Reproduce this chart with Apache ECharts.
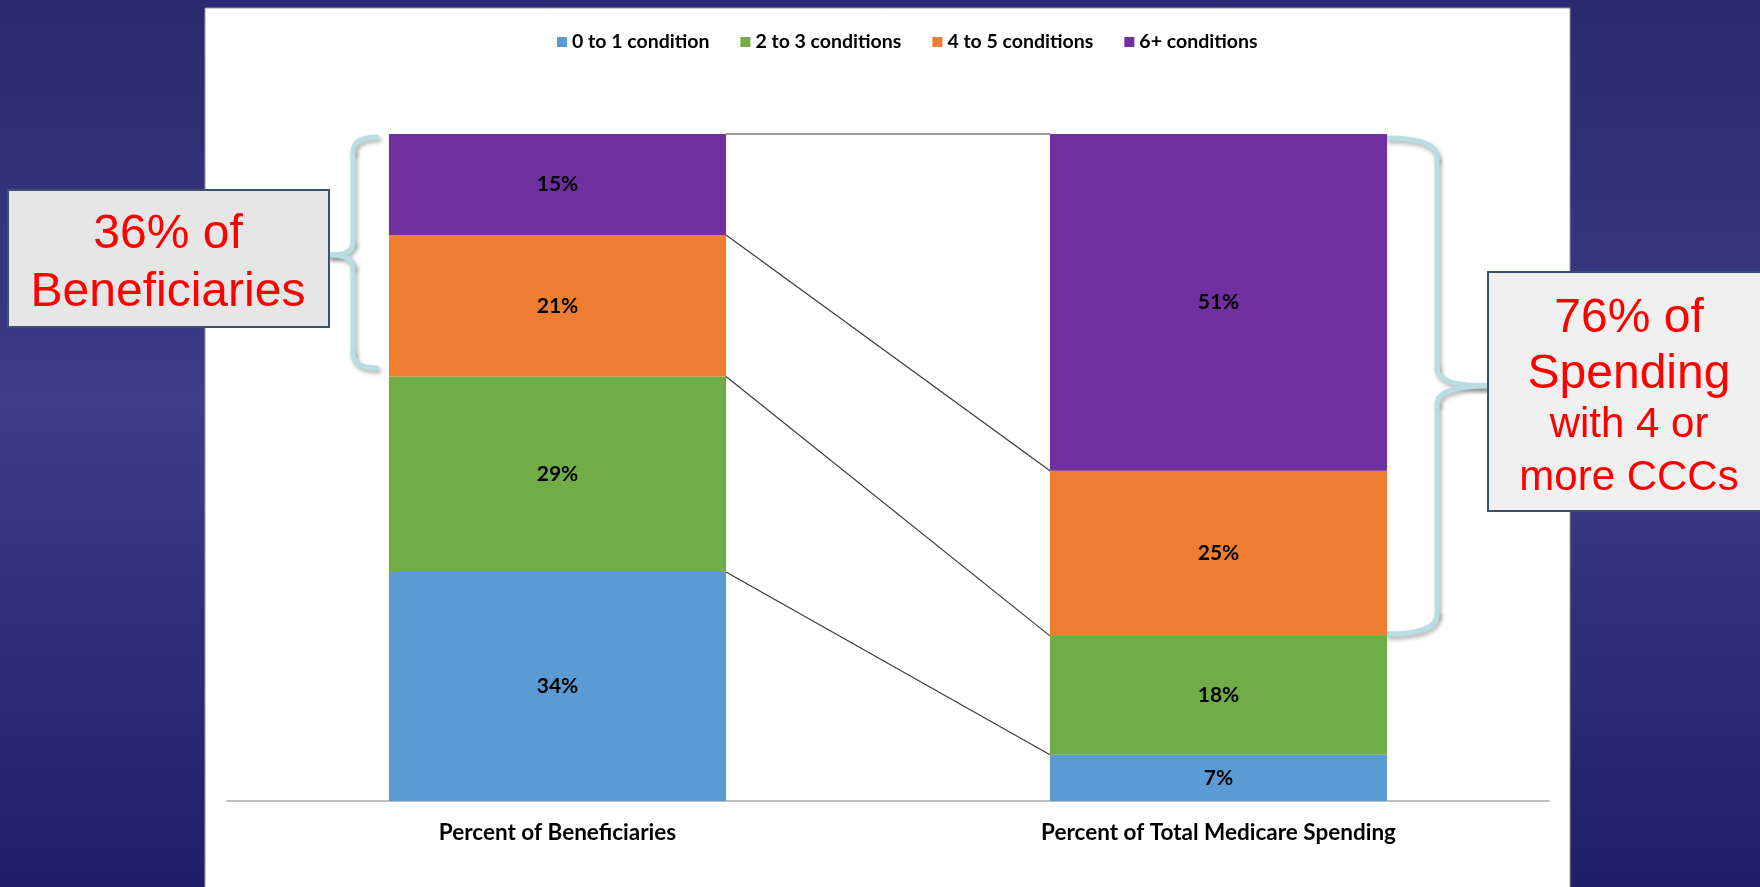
<!DOCTYPE html>
<html>
<head>
<meta charset="utf-8">
<script src="https://cdn.jsdelivr.net/npm/echarts@6/dist/echarts.min.js"></script>
<style>
html,body{margin:0;padding:0;width:1760px;height:887px;overflow:hidden;}
#chart{width:1760px;height:887px;}
</style>
</head>
<body>
<div id="chart"></div>
<script>
const categories = ['Percent of Beneficiaries', 'Percent of Total Medicare Spending'];
const groups = ['0 to 1 condition', '2 to 3 conditions', '4 to 5 conditions', '6+ conditions'];
const beneficiaries = [34, 29, 21, 15];
const spending = [7, 18, 25, 51];
const colors = ['#5b9bd5', '#70ad47', '#ed7d31', '#7030a0'];
const leftNote = ['36% of', 'Beneficiaries'];
const rightNote = ['76% of', 'Spending', 'with 4 or', 'more CCCs'];

// 100% stacked: share of each column total
function shares(arr) {
  const t = arr.reduce((a, b) => a + b, 0);
  return arr.map(v => v / t * 100);
}
const shareB = shares(beneficiaries);
const shareS = shares(spending);
function cum(arr) { let s = 0; return arr.map(v => (s += v)); }
const cumB = cum(shareB);
const cumS = cum(shareS);

const BAR_RATIO = 0.51;
const labelFont = 'Lato, "Noto Sans", sans-serif';

const barSeries = groups.map((g, i) => ({
  name: g,
  type: 'bar',
  stack: 'total',
  barWidth: (BAR_RATIO * 100) + '%',
  itemStyle: { color: colors[i] },
  label: {
    show: true,
    position: 'inside',
    color: '#000',
    fontFamily: labelFont,
    fontWeight: 'bold',
    fontSize: 21,
    formatter: p => p.data.raw + '%'
  },
  data: [
    { value: shareB[i], raw: beneficiaries[i] },
    { value: shareS[i], raw: spending[i] }
  ]
}));

const connector = {
  type: 'custom',
  z: 5,
  silent: true,
  encode: { x: 0, y: [1, 2] },
  data: cumB.map((v, i) => [0, v, cumS[i]]),
  renderItem: function (params, api) {
    const pL = api.coord([0, api.value(1)]);
    const pR = api.coord([1, api.value(2)]);
    const half = api.size([1, 0])[0] * BAR_RATIO / 2;
    return {
      type: 'line',
      shape: { x1: pL[0] + half, y1: pL[1], x2: pR[0] - half, y2: pR[1] },
      style: { stroke: '#3a3a3a', lineWidth: 1.2 }
    };
  }
};

const braceStyle = {
  stroke: '#b7dfe3', lineWidth: 5, fill: null, lineCap: 'round',
  shadowBlur: 4, shadowColor: 'rgba(0,0,0,0.3)', shadowOffsetX: 2, shadowOffsetY: 3
};
function brace(pieces) {
  return {
    type: 'group', z: 10, silent: true,
    children: pieces.map(p => p.length === 4
      ? { type: 'line', silent: true, shape: { x1: p[0], y1: p[1], x2: p[2], y2: p[3] }, style: braceStyle }
      : { type: 'bezierCurve', silent: true, shape: { x1: p[0], y1: p[1], cpx1: p[2], cpy1: p[3], x2: p[4], y2: p[5] }, style: braceStyle })
  };
}

const noteFont = (s) => s + 'px "Liberation Sans", Arial, sans-serif';

const graphics = [
  {
    type: 'rect', z: -20, silent: true,
    shape: { x: 0, y: 0, width: 1760, height: 887 },
    style: {
      fill: new echarts.graphic.LinearGradient(0, 0, 0, 1, [
        { offset: 0, color: '#29296f' },
        { offset: 0.45, color: '#3d3d88' },
        { offset: 1, color: '#1e1e6a' }
      ])
    }
  },
  {
    type: 'rect', z: -10, silent: true,
    shape: { x: 205, y: 8, width: 1365, height: 900 },
    style: { fill: '#ffffff', stroke: '#9a9a9a', lineWidth: 1 }
  },
  brace([
    [377, 137, 353, 137, 353, 152],
    [353, 152, 353, 243],
    [353, 243, 353, 255, 330, 255],
    [330, 255, 353, 255, 353, 267],
    [353, 267, 353, 353],
    [353, 353, 353, 368, 377, 368]
  ]),
  brace([
    [1387, 138, 1437, 138, 1437, 158],
    [1437, 158, 1437, 368],
    [1437, 368, 1437, 386, 1488, 386],
    [1488, 386, 1437, 386, 1437, 404],
    [1437, 404, 1437, 614],
    [1437, 614, 1437, 634, 1387, 634]
  ]),
  {
    type: 'rect', z: 11, silent: true,
    shape: { x: 8, y: 190, width: 321, height: 137 },
    style: { fill: '#e6e6e6', stroke: '#3b4f6e', lineWidth: 2 }
  },
  {
    type: 'rect', z: 11, silent: true,
    shape: { x: 1488, y: 272, width: 290, height: 239 },
    style: { fill: '#f0f0f0', stroke: '#3b4f6e', lineWidth: 2 }
  }
];
const leftY = [235, 293];
leftNote.forEach((t, i) => graphics.push({
  type: 'text', z: 12, silent: true,
  style: { text: t, x: 168, y: leftY[i], fill: '#ff0000', font: noteFont(48), align: 'center', verticalAlign: 'middle' }
}));
const rightY = [319, 375, 425, 478];
const rightSize = [48, 48, 42, 42];
rightNote.forEach((t, i) => graphics.push({
  type: 'text', z: 12, silent: true,
  style: { text: t, x: 1629, y: rightY[i], fill: '#ff0000', font: noteFont(rightSize[i]), align: 'center', verticalAlign: 'middle' }
}));

const chart = echarts.init(document.getElementById('chart'));
chart.setOption({
  animation: false,
  graphic: graphics,
  legend: {
    data: groups,
    left: 552,
    top: 27,
    icon: 'rect',
    itemWidth: 10,
    itemHeight: 10,
    itemGap: 31,
    textStyle: { color: '#000', fontFamily: labelFont, fontWeight: 'bold', fontSize: 19.5 }
  },
  grid: { left: 227, right: 211, top: 134, bottom: 86, containLabel: false },
  xAxis: {
    type: 'category',
    data: categories,
    axisLine: { lineStyle: { color: '#bfbfbf', width: 2 } },
    axisTick: { show: false },
    axisLabel: { color: '#000', fontFamily: labelFont, fontWeight: 'bold', fontSize: 22.5, margin: 20 }
  },
  yAxis: {
    type: 'value', min: 0, max: 100, show: false,
    splitLine: { show: false }
  },
  series: barSeries.concat([connector])
});
</script>
</body>
</html>
